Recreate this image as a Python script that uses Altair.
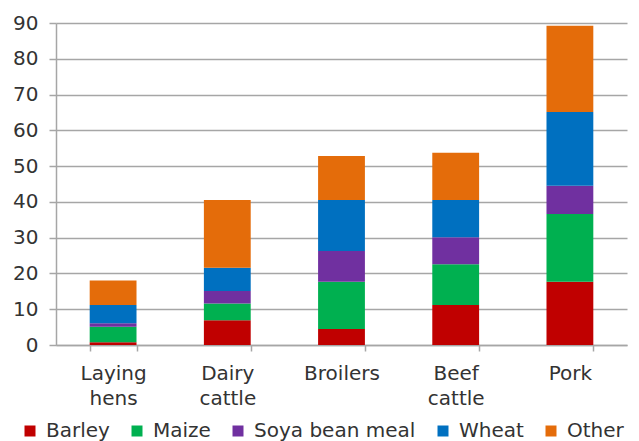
import altair as alt
import pandas as pd

categories = ["Laying hens", "Dairy cattle", "Broilers", "Beef cattle", "Pork"]
feeds = ["Barley", "Maize", "Soya bean meal", "Wheat", "Other"]
colors = ["#C00000", "#00B050", "#7030A0", "#0070C0", "#E46C0A"]

barley = [0.8, 6.9, 4.5, 11.2, 17.7]
maize = [4.3, 4.7, 13.2, 11.4, 18.9]
soya = [1.0, 3.5, 8.6, 7.5, 7.9]
wheat = [5.1, 6.5, 14.2, 10.4, 20.6]
other = [6.8, 18.9, 12.3, 13.2, 24.1]

series = [barley, maize, soya, wheat, other]
rows = []
for fi, (feed, vals) in enumerate(zip(feeds, series)):
    for cat, v in zip(categories, vals):
        rows.append({"category": cat, "feed": feed, "value": v, "order": fi})
df = pd.DataFrame(rows)

FONT = "DejaVu Sans"
TXT = "#333333"
GRID = "#a6a6a6"
HALF_GAP = 33.7

chart = alt.Chart(df).mark_bar().encode(
    x=alt.X("category:N", sort=categories,
            scale=alt.Scale(paddingInner=0.59, paddingOuter=0.295),
            axis=alt.Axis(title=None, labelAngle=0, labelFont=FONT, labelFontSize=20,
                          labelColor=TXT, labelExpr="split(datum.label, ' ')",
                          labelLineHeight=25, labelPadding=12, tickSize=6,
                          tickColor=GRID, tickWidth=1.5, tickBand="extent",
                          tickExtra=False, tickOffset=HALF_GAP,
                          domainColor=GRID, domainWidth=1.5, grid=False)),
    y=alt.Y("value:Q", stack="zero",
            scale=alt.Scale(domain=[0, 90], nice=False),
            axis=alt.Axis(title=None, values=list(range(0, 91, 10)), labelFont=FONT,
                          labelFontSize=20, labelColor=TXT, labelPadding=11,
                          tickSize=7, tickColor=GRID, tickWidth=1.5,
                          domainColor=GRID, domainWidth=1.5,
                          grid=True, gridColor=GRID, gridWidth=1.5)),
    color=alt.Color("feed:N", sort=feeds,
                    scale=alt.Scale(domain=feeds, range=colors),
                    legend=alt.Legend(title=None, orient="none", direction="horizontal",
                                      legendX=-36, legendY=398, padding=0,
                                      symbolType="square", symbolSize=121,
                                      symbolStrokeWidth=0, symbolOpacity=1,
                                      labelFont=FONT, labelFontSize=20, labelColor=TXT,
                                      labelOffset=6, columnPadding=17, labelLimit=300)),
    order=alt.Order("order:Q", sort="ascending"),
).properties(
    width=571, height=322,
    autosize=alt.AutoSizeParams(type="none"),
    padding={"left": 48, "top": 15, "right": 4, "bottom": 96},
).configure_view(stroke=None)

chart.save("out.html", embed_options={"renderer": "svg", "actions": False})
